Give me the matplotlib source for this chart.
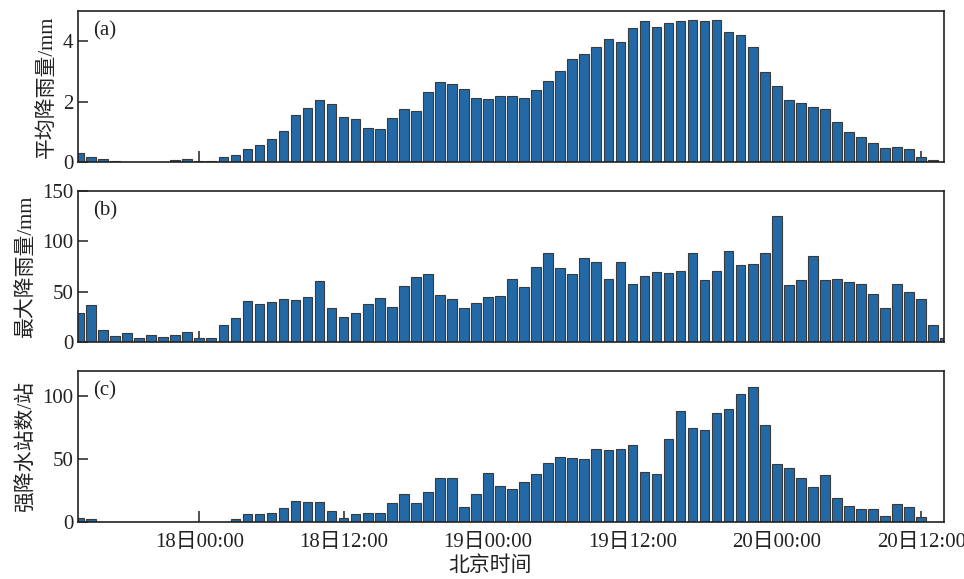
import matplotlib
matplotlib.use("Agg")
import matplotlib.pyplot as plt
import matplotlib.dates as mdates
import pandas as pd

plt.rcParams['font.family'] = ['Liberation Serif', 'Noto Sans CJK SC']
plt.rcParams['axes.unicode_minus'] = False

# Hourly series, 17日14:00 – 20日14:00 (Beijing time)
times = pd.date_range("2021-07-17 14:00", "2021-07-20 14:00", freq="h")

mean_rain = [0.31, 0.18, 0.09, 0.02, 0.01, 0.01, 0.01, 0.01, 0.08, 0.10,
             0.04, 0.03, 0.18, 0.24, 0.44, 0.57, 0.77, 1.03, 1.54, 1.80,
             2.06, 1.92, 1.50, 1.44, 1.13, 1.09, 1.47, 1.76, 1.70, 2.31,
             2.64, 2.57, 2.41, 2.13, 2.09, 2.19, 2.18, 2.13, 2.40, 2.69,
             3.02, 3.40, 3.57, 3.80, 4.06, 3.99, 4.43, 4.68, 4.47, 4.61,
             4.68, 4.69, 4.67, 4.70, 4.32, 4.20, 3.82, 2.98, 2.53, 2.04,
             1.94, 1.81, 1.77, 1.31, 0.98, 0.84, 0.64, 0.48, 0.51, 0.42,
             0.18, 0.06, 0.0]

max_rain = [29, 37, 12, 6, 9, 4, 7, 5, 7, 10,
            4, 4, 17, 24, 41, 38, 40, 43, 42, 45,
            61, 34, 25, 29, 38, 44, 35, 56, 65, 68,
            47, 43, 34, 39, 45, 46, 63, 55, 75, 88,
            74, 68, 83, 79, 63, 79, 58, 66, 70, 69,
            71, 88, 62, 71, 90, 76, 77, 88, 125, 57,
            62, 85, 62, 63, 60, 58, 48, 34, 58, 50,
            43, 17, 4]

heavy_stations = [3, 2, 0, 0, 0, 0, 0, 0, 0, 0,
                  0, 0, 0, 2, 6, 6, 7, 11, 17, 16,
                  16, 9, 3, 6, 7, 7, 15, 22, 15, 24,
                  35, 35, 12, 22, 39, 29, 26, 32, 38, 47,
                  52, 51, 50, 58, 57, 58, 61, 40, 38, 66,
                  88, 75, 73, 87, 90, 102, 107, 77, 46, 43,
                  35, 28, 37, 19, 13, 10, 10, 5, 14, 12,
                  4, 0, 0]

ylabels = ["平均降雨量/mm", "最大降雨量/mm", "强降水站数/站"]
panel_tags = ["(a)", "(b)", "(c)"]
ylims = [(0, 5), (0, 150), (0, 120)]
yticks = [[0, 2, 4], [0, 50, 100, 150], [0, 50, 100]]
tick_times = pd.date_range("2021-07-18 00:00", "2021-07-20 12:00", freq="12h")

bar_color = "#2369a6"
edge_color = "#3a3a3a"

fig = plt.figure(figsize=(9.64, 5.79), dpi=100)
left, width = 78 / 964, 866 / 964
boxes = [(11, 162), (191, 342), (371, 522)]
series = [mean_rain, max_rain, heavy_stations]

xmin = pd.Timestamp("2021-07-18 00:00") - pd.Timedelta(hours=10.08)
xmax = pd.Timestamp("2021-07-20 12:00") + pd.Timedelta(hours=1.9)

axes = []
for i, (top, bot) in enumerate(boxes):
    ax = fig.add_axes([left, 1 - bot / 579, width, (bot - top) / 579])
    ax.bar(times, series[i], width=0.8 / 24, color=bar_color,
           edgecolor=edge_color, linewidth=0.8, zorder=2)
    ax.set_xlim(xmin, xmax)
    ax.set_ylim(*ylims[i])
    ax.set_yticks(yticks[i])
    ax.set_xticks(tick_times)
    ax.xaxis.set_major_formatter(mdates.DateFormatter("%d日%H:%M"))
    ax.tick_params(axis="both", direction="in", length=7, width=1.1,
                   labelsize=15, colors="#222222")
    ax.tick_params(axis="x", length=8, pad=8)
    if i < 2:
        ax.tick_params(axis="x", labelbottom=False)
    for s in ax.spines.values():
        s.set_linewidth(1.2)
        s.set_color("#222222")
    ax.text(0.017, 0.87, panel_tags[i], transform=ax.transAxes,
            fontsize=15, color="#222222", va="center")
    ax.set_ylabel(ylabels[i], fontsize=15, color="#222222", labelpad=4)
    axes.append(ax)

fig.align_ylabels(axes)
fig.text(490 / 964, 1 - 566 / 579, "北京时间", ha="center", va="center",
         fontsize=15, color="#222222")

fig.savefig("out.png", dpi=100)
